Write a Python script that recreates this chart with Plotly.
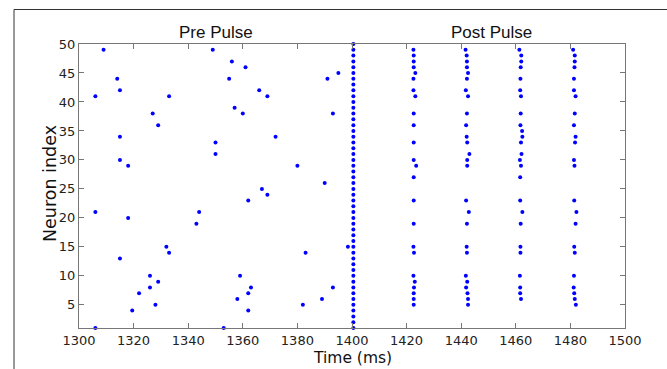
import plotly.graph_objects as go

# Pre-pulse spontaneous spikes (time ms, neuron index)
pre_times = [1309, 1314, 1315, 1306, 1333, 1327, 1329, 1315, 1315, 1318, 1349, 1350, 1350,
             1306, 1318, 1344, 1343, 1332, 1333, 1315, 1326, 1329, 1326, 1322, 1328, 1319.5, 1306,
             1356, 1361, 1355, 1366, 1369, 1357, 1360, 1372, 1380, 1391, 1395, 1393, 1390,
             1367, 1369, 1362, 1383, 1398.5, 1359, 1363, 1362, 1358, 1393, 1389, 1382, 1362, 1353]
pre_neurons = [49, 44, 42, 41, 41, 38, 36, 34, 30, 29, 49, 33, 31,
               21, 20, 21, 19, 15, 14, 13, 10, 9, 8, 7, 5, 4, 1,
               47, 46, 44, 42, 41, 39, 38, 34, 29, 44, 45, 38, 26,
               25, 24, 23, 14, 15, 10, 8, 7, 6, 8, 6, 5, 4, 1]

# Pulse: all neurons fire
pulse_neurons = [1, 2, 3, 4, 5, 6, 7, 8, 9, 10, 11, 12, 13, 14, 15, 16, 17, 18, 19, 20,
                 21, 22, 23, 24, 25, 26, 27, 28, 29, 30, 31, 32, 33, 34, 35, 36, 37, 38, 39, 40,
                 41, 42, 43, 44, 45, 46, 47, 48, 49, 50]
pulse_times = [1400.5] * 50

# Post-pulse bursts
b1_neurons = [49, 48, 47, 46, 45, 44, 42, 41, 38, 36, 33, 30, 29, 27, 23, 19, 15, 14, 10, 9, 8, 7, 6, 5]
b1_times = [1422.5, 1422.6, 1422.6, 1422.6, 1423.2, 1422.5, 1422.5, 1423.2, 1422.6, 1422.6, 1422.6,
            1422.6, 1423.5, 1422.6, 1422.6, 1422.6, 1422.5, 1422.7, 1422.5, 1423.0, 1422.7, 1422.6, 1422.6, 1422.6]

b2_neurons = [49, 48, 47, 46, 45, 44, 42, 41, 38, 36, 34, 33, 31, 30, 29, 23, 21, 19, 15, 14, 10, 9, 8, 7, 6, 5]
b2_times = [1441.6, 1442.0, 1442.1, 1442.1, 1442.5, 1442.1, 1441.7, 1442.5, 1442.1, 1441.8, 1442.0,
            1442.2, 1443.0, 1442.2, 1442.2, 1441.8, 1442.8, 1442.1, 1442.0, 1442.1, 1441.7, 1442.2,
            1441.8, 1442.3, 1442.5, 1442.5]

b3_neurons = [49, 48, 47, 46, 44, 42, 41, 38, 36, 35, 34, 33, 31, 30, 29, 27, 23, 21, 19, 15, 14, 10, 8, 7, 6]
b3_times = [1461.3, 1462.0, 1462.0, 1461.8, 1461.7, 1461.6, 1461.9, 1461.8, 1461.7, 1462.3, 1462.4,
            1461.9, 1462.1, 1461.5, 1461.9, 1461.6, 1461.6, 1462.4, 1461.8, 1461.7, 1461.7, 1461.5,
            1461.6, 1461.6, 1461.9]

b4_neurons = [49, 48, 47, 46, 44, 42, 41, 38, 36, 34, 33, 30, 29, 23, 21, 19, 15, 14, 10, 8, 7, 6, 5]
b4_times = [1481.0, 1481.6, 1481.6, 1481.5, 1481.3, 1481.3, 1481.9, 1481.6, 1481.3, 1481.9, 1481.7,
            1481.3, 1481.5, 1481.4, 1482.2, 1481.9, 1481.4, 1481.6, 1481.3, 1481.2, 1481.4, 1481.6, 1482.0]

x_ticks = [1300, 1320, 1340, 1360, 1380, 1400, 1420, 1440, 1460, 1480, 1500]
y_ticks = [5, 10, 15, 20, 25, 30, 35, 40, 45, 50]

all_t = pre_times + pulse_times + b1_times + b2_times + b3_times + b4_times
all_n = pre_neurons + pulse_neurons + b1_neurons + b2_neurons + b3_neurons + b4_neurons

fig = go.Figure()
fig.add_trace(go.Scatter(
    x=all_t, y=all_n, mode="markers",
    marker=dict(size=4, color="#0000ff", line=dict(width=0)),
    cliponaxis=False, showlegend=False, hoverinfo="x+y"))

L, R, T, B = 79, 42, 44, 41
W, H = 667, 369
pw, ph = W - L - R, H - T - B

def px_to_paper_x(px):
    return (px - L) / pw

def px_to_paper_y(py):
    return (H - B - py) / ph

axis_common = dict(showline=True, linecolor="#777777", linewidth=1, mirror="ticks",
                   ticks="inside", ticklen=5, tickcolor="#777777", showgrid=False,
                   zeroline=False, tickfont=dict(family="DejaVu Sans", size=13, color="#222222"))

fig.update_xaxes(range=[1300, 1500], tickvals=x_ticks, **axis_common)
fig.update_yaxes(range=[1, 50], tickvals=y_ticks, **axis_common)

fig.add_annotation(x=0.5, y=px_to_paper_y(358), xref="paper", yref="paper", text="Time (ms)",
                   showarrow=False, xanchor="center", yanchor="middle",
                   font=dict(family="DejaVu Sans", size=15.5, color="#111111"))
fig.add_annotation(x=px_to_paper_x(50), y=px_to_paper_y(184), xref="paper", yref="paper",
                   text="Neuron index", textangle=-90, showarrow=False,
                   xanchor="center", yanchor="middle",
                   font=dict(family="DejaVu Sans", size=17.5, color="#111111"))

fig.add_annotation(x=1350.2, y=px_to_paper_y(33), yref="paper", xref="x", text="Pre Pulse",
                   showarrow=False, yanchor="middle",
                   font=dict(family="Liberation Sans", size=17, color="#111111"))
fig.add_annotation(x=1451, y=px_to_paper_y(33), yref="paper", xref="x", text="Post Pulse",
                   showarrow=False, yanchor="middle",
                   font=dict(family="Liberation Sans", size=17, color="#111111"))

# outer figure frame (left and top edges)
fig.add_shape(type="line", xref="paper", yref="paper",
              x0=px_to_paper_x(14), x1=px_to_paper_x(14),
              y0=px_to_paper_y(9.5), y1=px_to_paper_y(369),
              line=dict(color="#333333", width=1))
fig.add_shape(type="line", xref="paper", yref="paper",
              x0=px_to_paper_x(14), x1=px_to_paper_x(667),
              y0=px_to_paper_y(9.5), y1=px_to_paper_y(9.5),
              line=dict(color="#333333", width=1))

fig.update_layout(width=W, height=H, margin=dict(l=L, r=R, t=T, b=B),
                  paper_bgcolor="white", plot_bgcolor="white")

fig.write_html("out.html")
